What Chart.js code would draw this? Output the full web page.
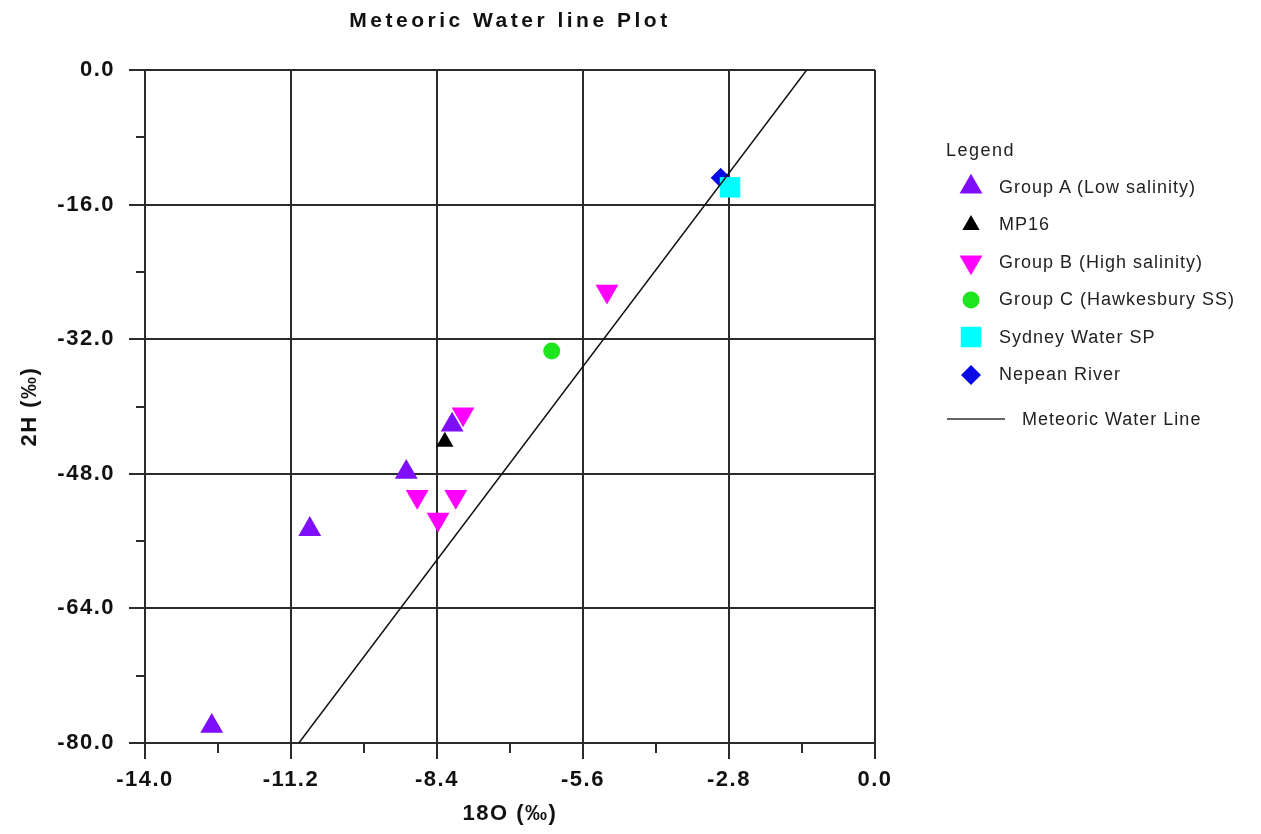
<!DOCTYPE html>
<html>
<head>
<meta charset="utf-8">
<title>Meteoric Water line Plot</title>
<script src="https://cdn.jsdelivr.net/npm/chart.js@4/dist/chart.umd.min.js"></script>
<style>
  body { margin: 0; background: #fff; }
  #wrap { position: relative; width: 1261px; height: 834px; }
  #plot { position: absolute; left: 0; top: 0; }
  #title {
    position: absolute; left: 0; top: 8px; width: 1020px; line-height: 26px;
    text-align: center; color: #111;
    font: bold 21px "Liberation Sans", Arial, sans-serif; letter-spacing: 3.5px;
  }
  #legend { position: absolute; left: 945px; top: 0; width: 316px; height: 460px;
    font: 18px "Liberation Sans", Arial, sans-serif; letter-spacing: 1px; color: #222; }
  #legend .head { position: absolute; left: 1px; top: 137px; line-height: 26px; letter-spacing: 1.5px; }
  #legend .row { position: absolute; left: 0; height: 38px; display: flex; align-items: center; white-space: nowrap; }
  #legend .row canvas { margin-left: 11px; margin-right: 13px; }
  #legend .row .line { width: 58px; height: 2px; background: #666; margin-left: 2px; margin-right: 17px; }
</style>
</head>
<body>
<div id="wrap">
  <canvas id="plot" width="1261" height="834"></canvas>
  <div id="title">Meteoric Water line Plot</div>
  <div id="legend"><div class="head">Legend</div></div>
</div>
<script>
// isotope samples: d18O (x) vs d2H (y), per mil
const groupA_x = [-12.72, -10.84, -8.99, -8.11];
const groupA_y = [-78.0, -54.6, -47.8, -42.2];
const mp16_x = [-8.25];
const mp16_y = [-44.2];
const groupB_x = [-5.14, -7.90, -8.78, -8.04, -8.38];
const groupB_y = [-26.3, -40.9, -50.7, -50.7, -53.4];
const groupC_x = [-6.20];
const groupC_y = [-33.4];
const sydney_x = [-2.78];
const sydney_y = [-13.95];
const nepean_x = [-2.96];
const nepean_y = [-12.8];

// meteoric water line end points
const mwl_x = [-11.05, -1.31];
const mwl_y = [-80, 0];

const xTicks = [-14, -11.2, -8.4, -5.6, -2.8, 0];
const yTicks = [0, -16, -32, -48, -64, -80];
const xMinorTicks = [-12.6, -9.8, -7.0, -4.2, -1.4];
const yMinorTicks = [-8, -24, -40, -56, -72];

const pts = (xs, ys) => xs.map((x, i) => ({ x: x, y: ys[i] }));

const GRID = "#2b2b2b";
const tickFont = { family: "Liberation Sans", weight: "bold", size: 22 };

function markers(label, xs, ys, color, style, radius, rotation, order) {
    return {
        label: label,
        data: pts(xs, ys),
        pointStyle: style,
        pointRadius: radius,
        pointHoverRadius: radius,
        pointRotation: rotation,
        pointBorderWidth: 0,
        backgroundColor: color,
        borderColor: color,
        order: order
    };
}

const datasets = [
    markers("Group A (Low salinity)", groupA_x, groupA_y, "#7F0EFA", "triangle", 13.2, 0, 2),
    markers("MP16", mp16_x, mp16_y, "#000000", "triangle", 10, 0, 3),
    markers("Group B (High salinity)", groupB_x, groupB_y, "#FF00FF", "triangle", 13.2, 180, 1),
    markers("Group C (Hawkesbury SS)", groupC_x, groupC_y, "#1EE61E", "circle", 8.5, 0, 1),
    markers("Sydney Water SP", sydney_x, sydney_y, "#00FFFF", "rect", 14.5, 0, 1),
    markers("Nepean River", nepean_x, nepean_y, "#0A0AE6", "rectRot", 10, 0, 4),
    {
        label: "Meteoric Water Line",
        data: pts(mwl_x, mwl_y),
        showLine: true,
        borderColor: "#111",
        borderWidth: 1.5,
        pointRadius: 0,
        order: 0,
        isLine: true
    }
];

// wider letter spacing on all canvas text
const spacing = {
    id: "spacing",
    beforeDraw(chart) { chart.ctx.letterSpacing = "1.5px"; }
};

// short unlabelled ticks between the gridlines
const minorTicks = {
    id: "minorTicks",
    afterDraw(chart) {
        const { ctx, chartArea: a, scales: { x, y } } = chart;
        ctx.save();
        ctx.strokeStyle = GRID;
        ctx.lineWidth = 2;
        ctx.beginPath();
        xMinorTicks.forEach(v => {
            const px = Math.round(x.getPixelForValue(v));
            ctx.moveTo(px, a.bottom);
            ctx.lineTo(px, a.bottom + 10);
        });
        yMinorTicks.forEach(v => {
            const py = Math.round(y.getPixelForValue(v));
            ctx.moveTo(a.left - 9, py);
            ctx.lineTo(a.left, py);
        });
        ctx.stroke();
        ctx.restore();
    }
};

function axis(ticks, title, titlePad, fit) {
    return {
        type: "linear",
        min: Math.min(...ticks),
        max: Math.max(...ticks),
        afterBuildTicks: s => { s.ticks = ticks.map(v => ({ value: v })); },
        afterFit: fit,
        ticks: {
            callback: v => v.toFixed(1),
            font: tickFont,
            color: "#111",
            padding: 8
        },
        grid: { color: GRID, lineWidth: 2, tickLength: 16, tickColor: GRID },
        border: { color: GRID, width: 2 },
        title: {
            display: true,
            text: title,
            font: { family: "Liberation Sans", weight: "bold", size: 22 },
            color: "#111",
            padding: titlePad
        }
    };
}

const xAxis = axis(xTicks, "18O (‰)", { top: 0, bottom: 7 }, s => { s.height = 91; });
const yAxis = axis(yTicks, "2H (‰)", { top: 17, bottom: 0 }, s => { s.width = 145; });
yAxis.ticks.padding = 14;

const chart = new Chart(document.getElementById("plot"), {
    type: "scatter",
    data: { datasets: datasets },
    options: {
        responsive: false,
        animation: false,
        devicePixelRatio: 1,
        layout: { padding: { top: 70, right: 386, bottom: 0, left: 0 } },
        scales: { x: xAxis, y: yAxis },
        plugins: { legend: { display: false }, tooltip: { enabled: false } }
    },
    plugins: [spacing, minorTicks]
});

// legend built from the datasets
const legend = document.getElementById("legend");
chart.data.datasets.forEach((ds, i) => {
    const row = document.createElement("div");
    row.className = "row";
    const center = ds.isLine ? 419 : 187 + i * 37.5;
    row.style.top = (center - 19) + "px";
    if (ds.isLine) {
        const ln = document.createElement("div");
        ln.className = "line";
        row.appendChild(ln);
    } else {
        const c = document.createElement("canvas");
        c.width = 30; c.height = 30;
        const g = c.getContext("2d");
        g.fillStyle = ds.backgroundColor;
        g.strokeStyle = ds.borderColor;
        Chart.helpers.drawPoint(g, {
            pointStyle: ds.pointStyle,
            rotation: ds.pointRotation,
            radius: ds.pointRadius,
            borderWidth: 0
        }, 15, 15);
        row.appendChild(c);
    }
    const t = document.createElement("span");
    t.textContent = ds.label;
    row.appendChild(t);
    legend.appendChild(row);
});
</script>
</body>
</html>
